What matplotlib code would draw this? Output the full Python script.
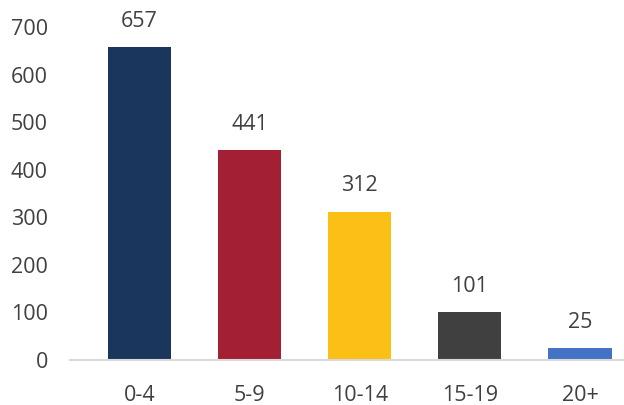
import matplotlib.pyplot as plt

plt.rcParams['font.family'] = ['Open Sans', 'DejaVu Sans']

age_groups = ['0-4', '5-9', '10-14', '15-19', '20+']
counts     = [657, 441, 312, 101, 25]
colors     = ['#1B365D', '#A31F34', '#FBBF15', '#404040', '#4472C4']

TXT = '#404040'

fig = plt.figure(figsize=(6.24, 4.05), dpi=100)
ax = fig.add_axes([70 / 624, 45 / 405, 1 - 70 / 624, 333 / 405])

xs = range(len(age_groups))
ax.bar(xs, counts, width=0.575, color=colors)
for x, v in zip(xs, counts):
    ax.annotate(str(v), (x, v), xytext=(0, 11), textcoords='offset points',
                ha='center', va='bottom', fontsize=15.5, color=TXT,
                annotation_clip=False)

ax.set_xlim(-0.63, 4.4)
ax.set_ylim(0, 700)
ax.set_yticks(range(0, 701, 100))
ax.set_xticks(list(xs))
ax.set_xticklabels(age_groups)
ax.tick_params(axis='both', length=0, labelsize=15.5, labelcolor=TXT)
ax.tick_params(axis='y', pad=16)
ax.tick_params(axis='x', pad=18)

for s in ['top', 'right', 'left']:
    ax.spines[s].set_visible(False)
ax.spines['bottom'].set_color('#D9D9D9')
ax.spines['bottom'].set_linewidth(1.5)

fig.savefig('out.png', dpi=100)
